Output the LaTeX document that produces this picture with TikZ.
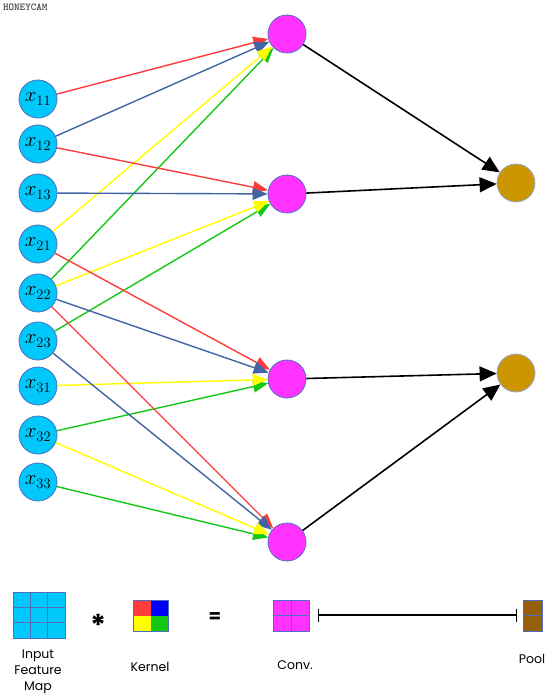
\documentclass[tikz,border=0pt]{standalone}
\usepackage{fontspec}
\setsansfont{Poppins}
\usetikzlibrary{arrows.meta}
\definecolor{incol}{RGB}{0,200,250}
\definecolor{bordcol}{RGB}{80,110,190}
\definecolor{convcol}{RGB}{255,50,255}
\definecolor{poolcol}{RGB}{204,150,0}
\definecolor{poolbox}{RGB}{150,95,10}
\definecolor{ered}{RGB}{255,60,60}
\definecolor{eblue}{RGB}{65,100,165}
\definecolor{eyellow}{RGB}{255,255,0}
\definecolor{egreen}{RGB}{20,200,20}
\tikzset{
  innode/.style={circle,draw=bordcol,fill=incol,line width=0.8pt,minimum size=38pt,inner sep=0pt,font=\fontsize{20}{20}\selectfont},
  convnode/.style={circle,draw=bordcol,fill=convcol,line width=0.8pt,minimum size=38pt,inner sep=0pt},
  poolnode/.style={circle,draw=bordcol!60,fill=poolcol,line width=0.8pt,minimum size=38pt,inner sep=0pt},
  edge/.style={line width=1.4pt,-{Triangle[length=15pt,width=12pt]}},
  redge/.style={edge,ered},
  bedge/.style={edge,eblue},
  yedge/.style={edge,eyellow},
  gedge/.style={edge,egreen},
  kedge/.style={line width=1.6pt,black,-{Triangle[length=17pt,width=15pt]}},
  lab/.style={font=\sffamily\fontsize{12.5}{16}\selectfont,align=center}
}
\begin{document}
\begin{tikzpicture}[x=1pt,y=-1pt]
\useasboundingbox (0,0) rectangle (556,700);
\node[anchor=north west,inner sep=0pt,font=\ttfamily\bfseries\fontsize{10.5}{10.5}\selectfont,text=black!75] (wm) at (3,4) {HONEYCAM};
% input nodes
\node[innode] (x11) at (38,99) {$x_{11}$};
\node[innode] (x12) at (38,144) {$x_{12}$};
\node[innode] (x13) at (38,193) {$x_{13}$};
\node[innode] (x21) at (38,244) {$x_{21}$};
\node[innode] (x22) at (38,293) {$x_{22}$};
\node[innode] (x23) at (38,341) {$x_{23}$};
\node[innode] (x31) at (38,386) {$x_{31}$};
\node[innode] (x32) at (38,435) {$x_{32}$};
\node[innode] (x33) at (38,482) {$x_{33}$};
% conv nodes
\node[convnode] (c1) at (287,34) {};
\node[convnode] (c2) at (287,194) {};
\node[convnode] (c3) at (287,379) {};
\node[convnode] (c4) at (287,542) {};
% pool nodes
\node[poolnode] (p1) at (516,183) {};
\node[poolnode] (p2) at (516,373) {};
% edges
\draw[redge] (x11) -- (c1);
\draw[bedge] (x12) -- (c1);
\draw[gedge] (x22) -- (c1);
\draw[yedge] (x21) -- (c1);
\draw[redge] (x12) -- (c2);
\draw[bedge] (x13) -- (c2);
\draw[gedge] (x23) -- (c2);
\draw[yedge] (x22) -- (c2);
\draw[redge] (x21) -- (c3);
\draw[bedge] (x22) -- (c3);
\draw[gedge] (x32) -- (c3);
\draw[yedge] (x31) -- (c3);
\draw[redge] (x22) -- (c4);
\draw[bedge] (x23) -- (c4);
\draw[gedge] (x33) -- (c4);
\draw[yedge] (x32) -- (c4);
\draw[kedge] (c1) -- (p1);
\draw[kedge] (c2) -- (p1);
\draw[kedge] (c3) -- (p2);
\draw[kedge] (c4) -- (p2);
% legend
\begin{scope}[draw=bordcol,line width=0.7pt]
\filldraw[fill=incol] (13,592) rectangle (65,638);
\draw (30.33,592) -- (30.33,638) (47.67,592) -- (47.67,638) (13,607.33) -- (65,607.33) (13,622.67) -- (65,622.67);
\filldraw[fill=ered,draw=none] (133,600) rectangle (150.5,615.5);
\filldraw[fill=blue,draw=none] (150.5,600) rectangle (168,615.5);
\filldraw[fill=eyellow,draw=none] (133,615.5) rectangle (150.5,631);
\filldraw[fill=egreen,draw=none] (150.5,615.5) rectangle (168,631);
\draw (133,600) rectangle (168,631);
\filldraw[fill=convcol] (273,600) rectangle (309,631);
\draw (291,600) -- (291,631) (273,615.5) -- (309,615.5);
\filldraw[fill=poolbox] (523,600) rectangle (542,631);
\draw (523,615.5) -- (542,615.5);
\end{scope}
\node[lab] (lin) at (38,672) {Input\\Feature\\Map};
\node[font=\sffamily\bfseries\fontsize{30}{30}\selectfont,inner sep=0pt] (star) at (99,625) {*};
\node[lab] (lk) at (150,667) {Kernel};
\node[font=\sffamily\bfseries\fontsize{18}{18}\selectfont] (eq) at (215,618) {=};
\node[lab] (lc) at (295,665) {Conv.};
\node[lab] (lp) at (532,659) {Pool};
\coordinate (la) at (318,615);
\coordinate (lb) at (517,615);
\draw[line width=1.2pt,{Bar[width=13pt]}-{Bar[width=13pt]}] (la) -- (lb);
\end{tikzpicture}
\end{document}
